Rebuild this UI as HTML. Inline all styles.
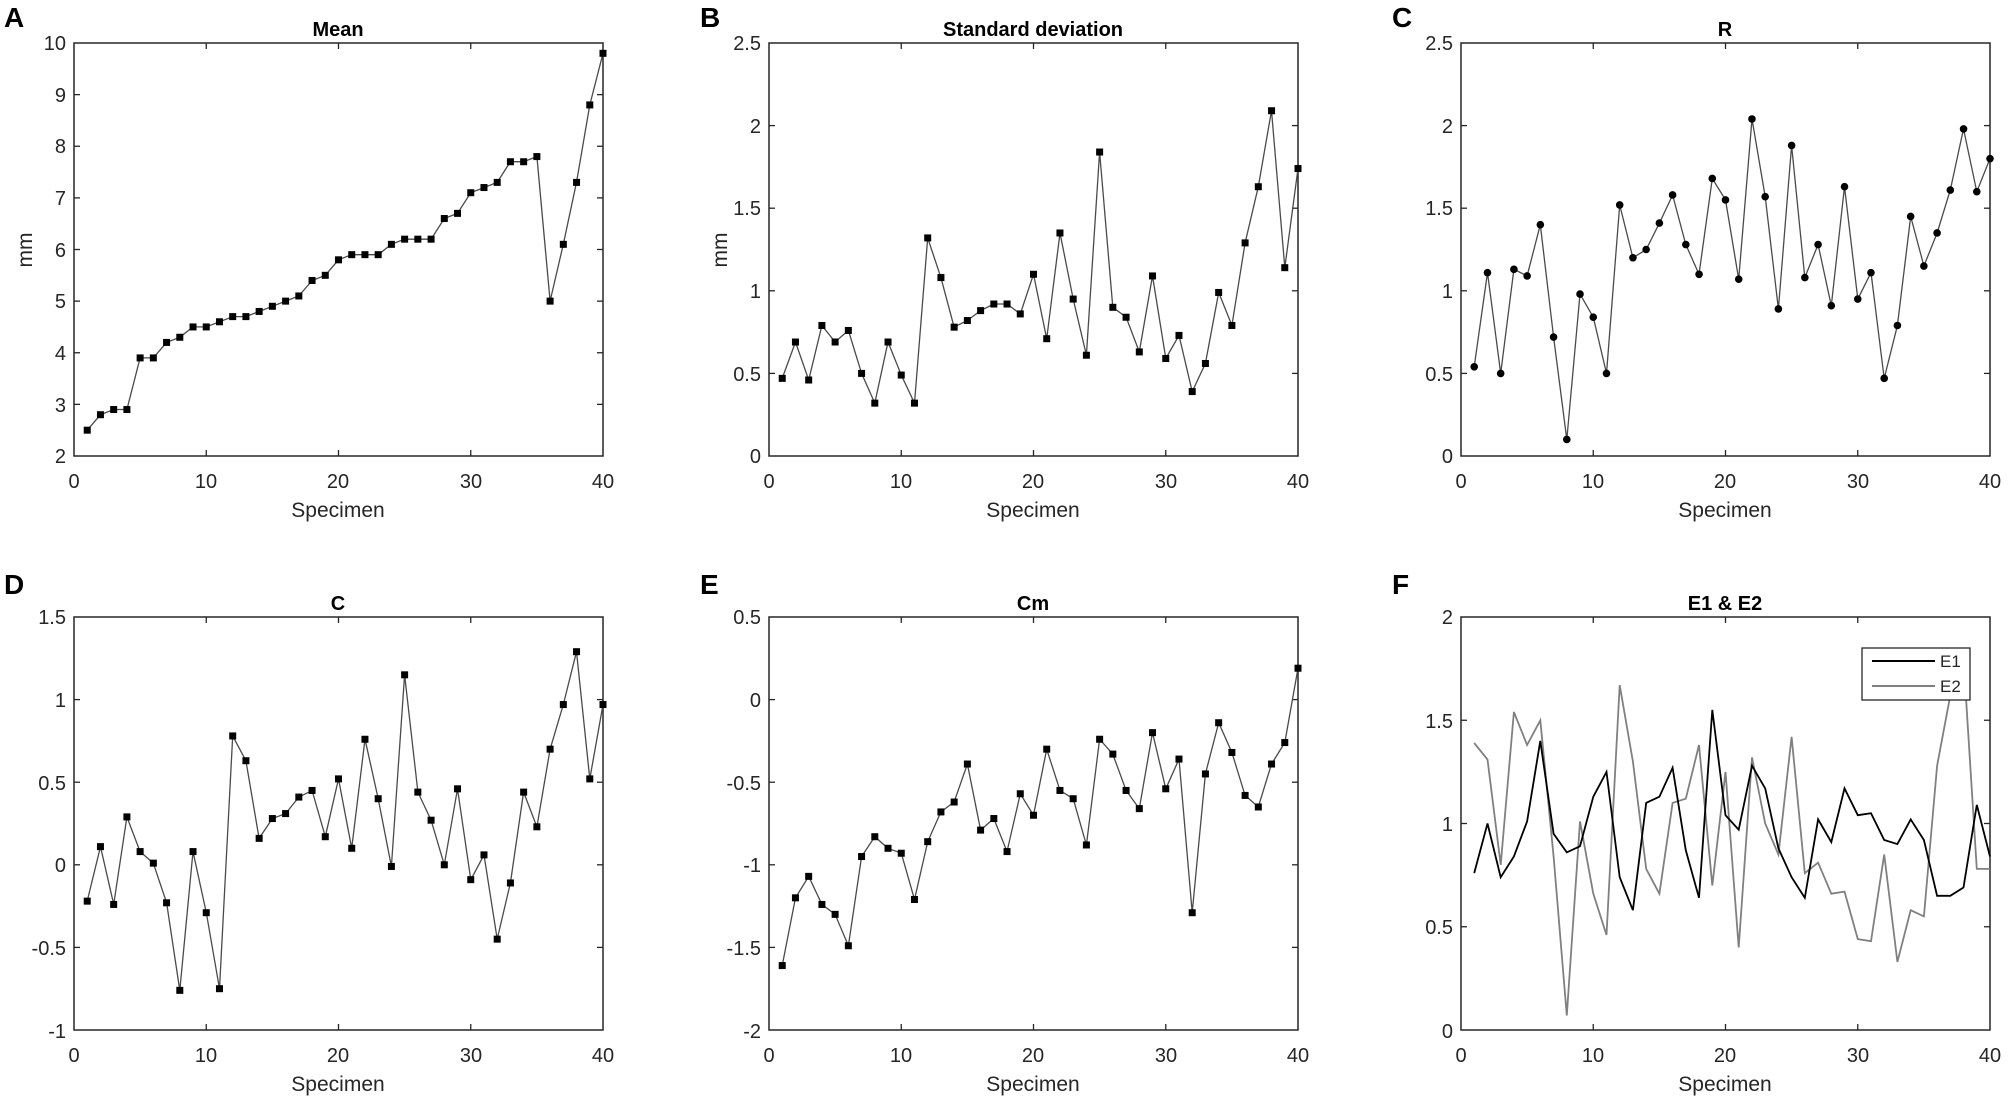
<!DOCTYPE html>
<html><head><meta charset="utf-8"><style>
html,body{margin:0;padding:0;background:#fff}
svg{display:block;font-family:"Liberation Sans",Arial,sans-serif}
.t{font-size:20px;fill:#262626}
.ti{font-size:20px;font-weight:bold;fill:#000}
.L{font-size:28px;font-weight:bold;fill:#000}
.ax{font-size:21px;fill:#262626}
</style></head><body>
<svg id="s" width="2008" height="1097" viewBox="0 0 2008 1097" xmlns="http://www.w3.org/2000/svg">
<rect width="2008" height="1097" fill="#fff"/>
<g id="plots"></g>
<text class="L" x="4" y="27">A</text>
<text class="L" x="700" y="27">B</text>
<text class="L" x="1392" y="27">C</text>
<text class="L" x="4" y="594">D</text>
<text class="L" x="700" y="594">E</text>
<text class="L" x="1392" y="594">F</text>
<text class="ti" x="338" y="36" text-anchor="middle">Mean</text>
<text class="ti" x="1033" y="36" text-anchor="middle">Standard  deviation</text>
<text class="ti" x="1725" y="36" text-anchor="middle">R</text>
<text class="ti" x="338" y="610" text-anchor="middle">C</text>
<text class="ti" x="1033" y="610" text-anchor="middle">Cm</text>
<text class="ti" x="1725" y="610" text-anchor="middle">E1 &amp; E2</text>
<text class="ax" x="338" y="517" text-anchor="middle">Specimen</text>
<text class="ax" x="1033" y="517" text-anchor="middle">Specimen</text>
<text class="ax" x="1725" y="517" text-anchor="middle">Specimen</text>
<text class="ax" x="338" y="1091" text-anchor="middle">Specimen</text>
<text class="ax" x="1033" y="1091" text-anchor="middle">Specimen</text>
<text class="ax" x="1725" y="1091" text-anchor="middle">Specimen</text>
<text class="ax" transform="translate(32,250) rotate(-90)" text-anchor="middle">mm</text>
<text class="ax" transform="translate(727,250) rotate(-90)" text-anchor="middle">mm</text>
<g class="t" text-anchor="middle">
<text x="74" y="488">0</text><text x="206" y="488">10</text><text x="338" y="488">20</text><text x="471" y="488">30</text><text x="603" y="488">40</text>
<text x="769" y="488">0</text><text x="901" y="488">10</text><text x="1033" y="488">20</text><text x="1166" y="488">30</text><text x="1298" y="488">40</text>
<text x="1461" y="488">0</text><text x="1593" y="488">10</text><text x="1725" y="488">20</text><text x="1858" y="488">30</text><text x="1990" y="488">40</text>
<text x="74" y="1062">0</text><text x="206" y="1062">10</text><text x="338" y="1062">20</text><text x="471" y="1062">30</text><text x="603" y="1062">40</text>
<text x="769" y="1062">0</text><text x="901" y="1062">10</text><text x="1033" y="1062">20</text><text x="1166" y="1062">30</text><text x="1298" y="1062">40</text>
<text x="1461" y="1062">0</text><text x="1593" y="1062">10</text><text x="1725" y="1062">20</text><text x="1858" y="1062">30</text><text x="1990" y="1062">40</text>
</g>
<g class="t" text-anchor="end">
<text x="66" y="50">10</text><text x="66" y="102">9</text><text x="66" y="153">8</text><text x="66" y="205">7</text><text x="66" y="257">6</text><text x="66" y="308">5</text><text x="66" y="360">4</text><text x="66" y="412">3</text><text x="66" y="463">2</text>
<text x="761" y="50">2.5</text><text x="761" y="133">2</text><text x="761" y="215">1.5</text><text x="761" y="298">1</text><text x="761" y="381">0.5</text><text x="761" y="463">0</text>
<text x="1453" y="50">2.5</text><text x="1453" y="133">2</text><text x="1453" y="215">1.5</text><text x="1453" y="298">1</text><text x="1453" y="381">0.5</text><text x="1453" y="463">0</text>
<text x="66" y="624">1.5</text><text x="66" y="707">1</text><text x="66" y="790">0.5</text><text x="66" y="872">0</text><text x="66" y="955">-0.5</text><text x="66" y="1038">-1</text>
<text x="761" y="624">0.5</text><text x="761" y="707">0</text><text x="761" y="790">-0.5</text><text x="761" y="872">-1</text><text x="761" y="955">-1.5</text><text x="761" y="1038">-2</text>
<text x="1453" y="624">2</text><text x="1453" y="728">1.5</text><text x="1453" y="831">1</text><text x="1453" y="934">0.5</text><text x="1453" y="1038">0</text>
</g>
<g id="leg">
<rect x="1862" y="648" width="108" height="52" fill="#fff" stroke="#262626" stroke-width="1.3"/>
<line x1="1872" y1="661" x2="1935" y2="661" stroke="#000" stroke-width="2"/>
<line x1="1872" y1="686" x2="1935" y2="686" stroke="#808080" stroke-width="2"/>
<text class="t" x="1940" y="667" style="font-size:17px">E1</text>
<text class="t" x="1940" y="692" style="font-size:17px">E2</text>
</g>
</svg>
<script>
var NS="http://www.w3.org/2000/svg",G=document.getElementById('plots');
function el(n,a){var e=document.createElementNS(NS,n);for(var k in a)e.setAttribute(k,a[k]);G.appendChild(e);return e;}
var W=529,H=413;
function panel(x0,y0,ymin,ymax,yt,series){
 el('rect',{x:x0,y:y0,width:W,height:H,fill:'none',stroke:'#262626','stroke-width':1.5});
 for(var i=1;i<4;i++){var x=x0+W*i/4;el('line',{x1:x,y1:y0+H,x2:x,y2:y0+H-6,stroke:'#262626','stroke-width':1.3});el('line',{x1:x,y1:y0,x2:x,y2:y0+6,stroke:'#262626','stroke-width':1.3});}
 yt.forEach(function(v){var y=y0+H-(v-ymin)/(ymax-ymin)*H;el('line',{x1:x0,y1:y,x2:x0+6,y2:y,stroke:'#262626','stroke-width':1.3});el('line',{x1:x0+W,y1:y,x2:x0+W-6,y2:y,stroke:'#262626','stroke-width':1.3});});
 series.forEach(function(s){
  var pts=s.d.map(function(v,i){return [x0+(i+1)/40*W,y0+H-(v-ymin)/(ymax-ymin)*H];});
  el('polyline',{points:pts.map(function(p){return p[0].toFixed(1)+','+p[1].toFixed(1)}).join(' '),fill:'none',stroke:s.c,'stroke-width':s.w});
  if(s.m=='s')pts.forEach(function(p){el('rect',{x:p[0]-3.5,y:p[1]-3.5,width:7,height:7,fill:'#000'});});
  if(s.m=='o')pts.forEach(function(p){el('circle',{cx:p[0],cy:p[1],r:3.8,fill:'#000'});});
 });
}
var A=[2.5,2.8,2.9,2.9,3.9,3.9,4.2,4.3,4.5,4.5,4.6,4.7,4.7,4.8,4.9,5.0,5.1,5.4,5.5,5.8,5.9,5.9,5.9,6.1,6.2,6.2,6.2,6.6,6.7,7.1,7.2,7.3,7.7,7.7,7.8,5.0,6.1,7.3,8.8,9.8];
var B=[0.47,0.69,0.46,0.79,0.69,0.76,0.5,0.32,0.69,0.49,0.32,1.32,1.08,0.78,0.82,0.88,0.92,0.92,0.86,1.1,0.71,1.35,0.95,0.61,1.84,0.9,0.84,0.63,1.09,0.59,0.73,0.39,0.56,0.99,0.79,1.29,1.63,2.09,1.14,1.74];
var C=[0.54,1.11,0.5,1.13,1.09,1.4,0.72,0.1,0.98,0.84,0.5,1.52,1.2,1.25,1.41,1.58,1.28,1.1,1.68,1.55,1.07,2.04,1.57,0.89,1.88,1.08,1.28,0.91,1.63,0.95,1.11,0.47,0.79,1.45,1.15,1.35,1.61,1.98,1.6,1.8];
var D=[-0.22,0.11,-0.24,0.29,0.08,0.01,-0.23,-0.76,0.08,-0.29,-0.75,0.78,0.63,0.16,0.28,0.31,0.41,0.45,0.17,0.52,0.1,0.76,0.4,-0.01,1.15,0.44,0.27,0,0.46,-0.09,0.06,-0.45,-0.11,0.44,0.23,0.7,0.97,1.29,0.52,0.97];
var E=[-1.61,-1.2,-1.07,-1.24,-1.3,-1.49,-0.95,-0.83,-0.9,-0.93,-1.21,-0.86,-0.68,-0.62,-0.39,-0.79,-0.72,-0.92,-0.57,-0.7,-0.3,-0.55,-0.6,-0.88,-0.24,-0.33,-0.55,-0.66,-0.2,-0.54,-0.36,-1.29,-0.45,-0.14,-0.32,-0.58,-0.65,-0.39,-0.26,0.19];
var E1=[0.76,1.0,0.74,0.84,1.01,1.4,0.95,0.86,0.89,1.13,1.25,0.74,0.58,1.1,1.13,1.27,0.87,0.64,1.55,1.04,0.97,1.28,1.17,0.88,0.74,0.64,1.02,0.91,1.17,1.04,1.05,0.92,0.9,1.02,0.92,0.65,0.65,0.69,1.09,0.84];
var E2=[1.39,1.31,0.8,1.54,1.38,1.5,0.84,0.07,1.01,0.66,0.46,1.67,1.3,0.78,0.66,1.1,1.12,1.38,0.7,1.25,0.4,1.32,1.0,0.85,1.42,0.76,0.81,0.66,0.67,0.44,0.43,0.85,0.33,0.58,0.55,1.28,1.62,1.8,0.78,0.78];
var gl='#4a4a4a';
panel(74,43,2,10,[3,4,5,6,7,8,9],[{d:A,c:gl,w:1.3,m:'s'}]);
panel(769,43,0,2.5,[0.5,1,1.5,2],[{d:B,c:gl,w:1.3,m:'s'}]);
panel(1461,43,0,2.5,[0.5,1,1.5,2],[{d:C,c:gl,w:1.3,m:'o'}]);
panel(74,617,-1,1.5,[-0.5,0,0.5,1],[{d:D,c:gl,w:1.3,m:'s'}]);
panel(769,617,-2,0.5,[-1.5,-1,-0.5,0],[{d:E,c:gl,w:1.3,m:'s'}]);
panel(1461,617,0,2,[0.5,1,1.5],[{d:E2,c:'#808080',w:1.8},{d:E1,c:'#000',w:1.8}]);
</script>
</body></html>
